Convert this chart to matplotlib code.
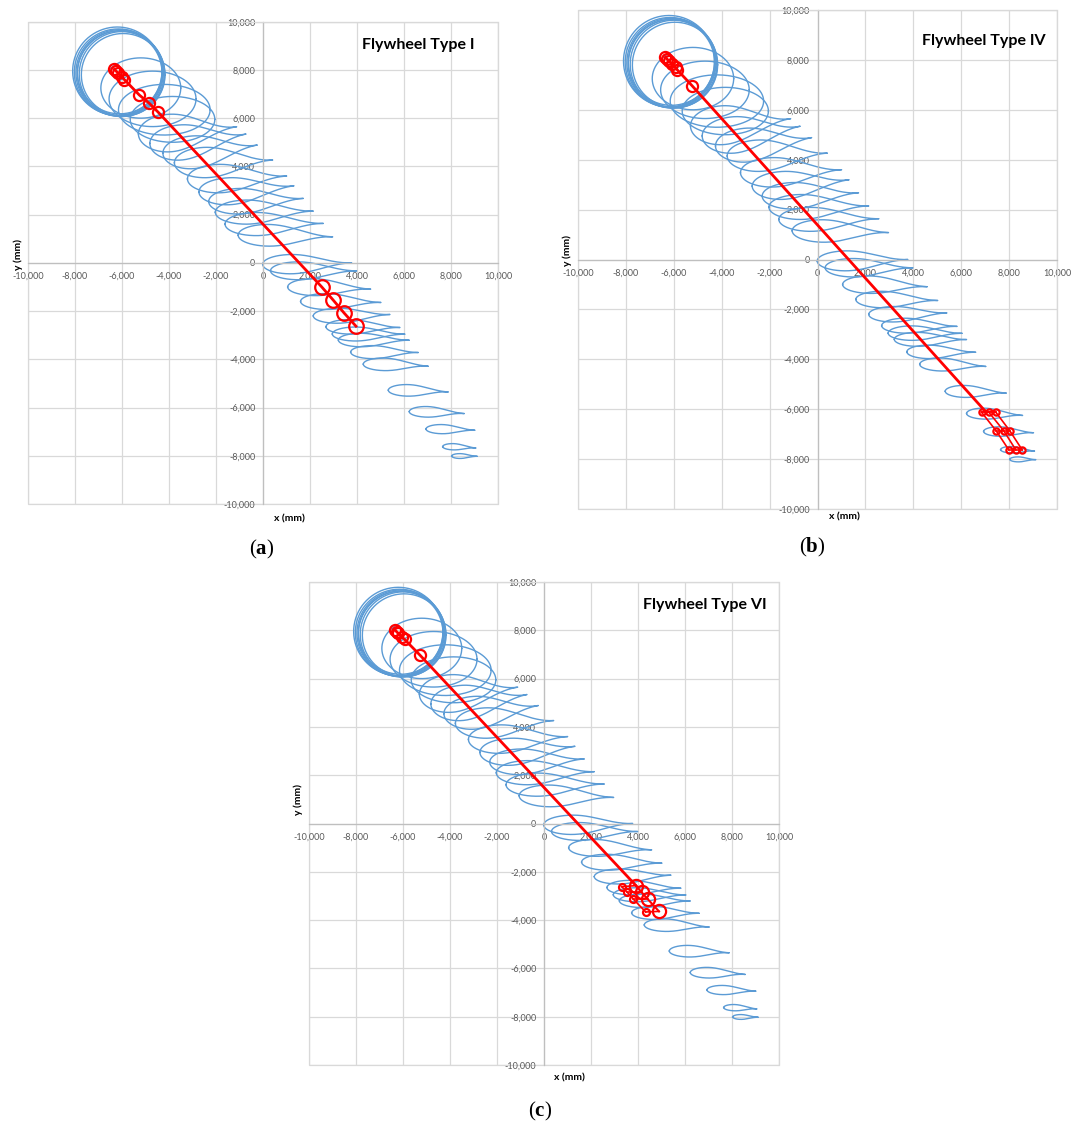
import numpy as np
import matplotlib
matplotlib.use("Agg")
import matplotlib.pyplot as plt
from matplotlib.ticker import FuncFormatter
from matplotlib.patches import Rectangle

plt.rcParams['font.family'] = ['Lato', 'DejaVu Sans']
plt.rcParams['mathtext.fontset'] = 'custom'
plt.rcParams['mathtext.rm'] = 'Liberation Serif'
plt.rcParams['mathtext.bf'] = 'Liberation Serif:bold'

# ---------------- data (mm) ----------------
# near-circular orbits (no tail): centre and radii
ring_cx = [-6200, -6150, -6100, -6050, -6000, -6100, -5950, -5200, -4700, -4200, -3850]
ring_cy = [7950, 7900, 7880, 7850, 7830, 7900, 7800, 7250, 6800, 6350, 5950]
ring_rx = [1900, 1880, 1860, 1850, 1820, 1800, 1780, 1700, 1850, 1950, 1800]
ring_ry = [1830, 1800, 1790, 1780, 1760, 1720, 1710, 1250, 1150, 1050, 950]

# tailed loops: left end, centre y, half height, tip x, tip y
loop_left = [-5303, -4814, -4259, -3770, -3215, -2727, -2310, -2030, -1615, -1057,
             -13, 320, 1050, 1600, 2140, 2680, 2950, 3207, 3731, 4268,
             5333, 6225, 6936, 7646, 8028]
loop_cy = [5353, 4952, 4550, 4149, 3482, 2944, 2542, 2100, 1606, 1150,
           -60, -330, -1000, -1600, -2200, -2650, -2950, -3200, -3700, -4200,
           -5280, -6170, -6890, -7620, -8010]
loop_ry = [780, 730, 680, 630, 590, 560, 530, 500, 480, 450,
           400, 370, 350, 330, 310, 300, 290, 280, 270, 260,
           240, 220, 190, 130, 100]
loop_tipx = [-1119, -723, -243, 413, 1008, 1319, 1715, 2140, 2566, 2966,
             3774, 3987, 4583, 5021, 5404, 5829, 6042, 6225, 6608, 7034,
             7885, 8565, 9021, 9063, 9118]
loop_tipy = [5644, 5341, 4885, 4263, 3599, 3196, 2673, 2146, 1635, 1079,
             0, -332, -1091, -1643, -2141, -2681, -2959, -3208, -3718, -4287,
             -5354, -6250, -6943, -7678, -8022]

# red paths
a_x = [-6327, -6250, -6157, -6013, -5900, -5263, -4838, -4455, 2497, 2991, 3447, 3957]
a_y = [8026, 7950, 7860, 7719, 7600, 6960, 6615, 6242, -996, -1548, -2075, -2627]

b_x = [-6347, -6280, -6207, -6068, -5929, -5858, -5232, 7015]
b_y = [8100, 8030, 7965, 7831, 7698, 7604, 6960, -6092]
b_cl_x = [[6848, 7461, 7988], [7153, 7779, 8280], [7446, 8030, 8547]]
b_cl_y = [[-6120, -6867, -7630], [-6120, -6867, -7630], [-6120, -6867, -7630]]

c_x = [-6340, -6270, -6200, -6060, -5930, -5277, 3915]
c_y = [8008, 7940, 7870, 7740, 7620, 6971, -2573]
c_big_x = [3915, 4157, 4413, 4894]
c_big_y = [-2573, -2850, -3129, -3639]
c_small_x = [3306, 3545, 3800, 4328]
c_small_y = [-2614, -2850, -3129, -3664]

ticks = [-10000, -8000, -6000, -4000, -2000, 0, 2000, 4000, 6000, 8000, 10000]
titles = ["Flywheel Type I", "Flywheel Type IV", "Flywheel Type VI"]
panel_tags = ["a", "b", "c"]

BLUE = '#5B9BD5'
RED = '#FF0000'


def ellipse(cx, cy, rx, ry, n=240):
    th = np.linspace(0, 2 * np.pi, n)
    return cx + rx * np.cos(th), cy + ry * np.sin(th)


def teardrop(left, cy, ry, tipx, tipy, s0=0.32, k=2.0, n=160):
    phi = np.linspace(0, np.pi, n)
    s = (1 - np.cos(phi)) / 2
    body = np.sqrt(np.clip(1 - ((s - s0) / s0) ** 2, 0, 1))
    tail = np.cos(np.pi / 2 * np.clip((s - s0) / (1 - s0), 0, 1)) ** k
    h = np.where(s < s0, body, tail)
    X = left + (tipx - left) * s
    yc = cy + (tipy - cy) * s ** 2
    top = yc + ry * h
    bot = yc - ry * h
    return np.concatenate([X, X[::-1]]), np.concatenate([top, bot[::-1]])


fmt = FuncFormatter(lambda v, p: f"{v:,.0f}")


def setup(ax):
    ax.set_xlim(-10000, 10000)
    ax.set_ylim(-10000, 10000)
    ax.set_xticks(ticks)
    ax.set_yticks(ticks)
    ax.xaxis.set_major_formatter(fmt)
    ax.yaxis.set_major_formatter(fmt)
    ax.grid(True, color='#D9D9D9', lw=0.9)
    ax.set_axisbelow(True)
    for s in ['left', 'bottom']:
        ax.spines[s].set_position('zero')
        ax.spines[s].set_color('#BFBFBF')
        ax.spines[s].set_linewidth(0.9)
    for s in ['top', 'right']:
        ax.spines[s].set_color('#D9D9D9')
    ax.tick_params(length=0, labelsize=6.5, labelcolor='#595959')
    ax.tick_params(axis='x', pad=6.5)
    ax.tick_params(axis='y', pad=5.5)
    ax.add_patch(Rectangle((0, 0), 1, 1, transform=ax.transAxes, fill=False,
                           ec='#D9D9D9', lw=0.9, clip_on=False, zorder=0.5))


def draw_blue(ax):
    for cx, cy, rx, ry in zip(ring_cx, ring_cy, ring_rx, ring_ry):
        X, Y = ellipse(cx, cy, rx, ry)
        ax.plot(X, Y, color=BLUE, lw=1.0, zorder=2)
    for l, cy, ry, tx, ty in zip(loop_left, loop_cy, loop_ry, loop_tipx, loop_tipy):
        X, Y = teardrop(l, cy, ry, tx, ty)
        ax.plot(X, Y, color=BLUE, lw=1.0, zorder=2)


fig = plt.figure(figsize=(10.72, 11.31), dpi=100)
W, H = 1072, 1131
boxes = [(28, 21.7, 498, 504), (578, 10, 1057, 509), (309, 582, 779, 1065)]
title_pos = [(0.831, 0.952), (0.847, 0.9385), (0.843, 0.952)]
xlab_pos = [(0.557, -0.031), (0.557, -0.016), (0.555, -0.027)]
ylab_pos = [(-0.021, 0.518), (-0.023, 0.519), (-0.023, 0.549)]
tag_pos = [(262, 549), (812, 547), (540, 1111)]

axes = []
for i, (l, t, r, b) in enumerate(boxes):
    ax = fig.add_axes([l / W, 1 - b / H, (r - l) / W, (b - t) / H])
    setup(ax)
    draw_blue(ax)
    ax.text(*title_pos[i], titles[i], transform=ax.transAxes, ha='center', va='center',
            fontsize=11.5, fontweight='bold', color='black', zorder=6)
    ax.text(*xlab_pos[i], "x (mm)", transform=ax.transAxes, ha='center', va='center',
            fontsize=7.5, fontweight='bold', clip_on=False)
    ax.text(*ylab_pos[i], "y (mm)", transform=ax.transAxes, ha='center', va='center',
            fontsize=7.5, fontweight='bold', rotation=90, clip_on=False)
    fig.text(tag_pos[i][0] / W, 1 - tag_pos[i][1] / H, r"($\mathbf{" + panel_tags[i] + "}$)",
             ha='center', va='center', fontsize=15, family='Liberation Serif')
    axes.append(ax)

mk = dict(marker='o', mfc='none', mec=RED, mew=1.6, color=RED, zorder=5)

# panel a
ax = axes[0]
ax.plot(a_x, a_y, lw=2.0, color=RED, zorder=4)
ax.plot(a_x[:8], a_y[:8], ls='none', ms=8, **mk)
ax.plot(a_x[8:], a_y[8:], ls='none', ms=10.5, **mk)

# panel b
ax = axes[1]
ax.plot(b_x, b_y, lw=2.0, color=RED, zorder=4)
ax.plot(b_x[:-1], b_y[:-1], ls='none', ms=8, **mk)
for xs, ys in zip(b_cl_x, b_cl_y):
    ax.plot([b_x[-1]] + xs[:1], [b_y[-1]] + ys[:1], lw=1.2, color=RED, zorder=4)
    ax.plot(xs, ys, lw=1.2, ms=4.5, **mk)
for j in range(3):
    rx_ = [row[j] for row in b_cl_x]
    ry_ = [row[j] for row in b_cl_y]
    ax.plot(rx_, ry_, lw=1.2, color=RED, zorder=4)

# panel c
ax = axes[2]
ax.plot(c_x, c_y, lw=2.0, color=RED, zorder=4)
ax.plot(c_x[:-1], c_y[:-1], ls='none', ms=8, **mk)
ax.plot(c_big_x, c_big_y, lw=1.5, ms=9.5, **mk)
ax.plot(c_small_x, c_small_y, lw=1.2, ms=5, **mk)
for xs, ys, xb, yb in zip(c_small_x, c_small_y, c_big_x, c_big_y):
    ax.plot([xs, xb], [ys, yb], lw=1.2, color=RED, zorder=4)

fig.savefig("out.png", dpi=100)
